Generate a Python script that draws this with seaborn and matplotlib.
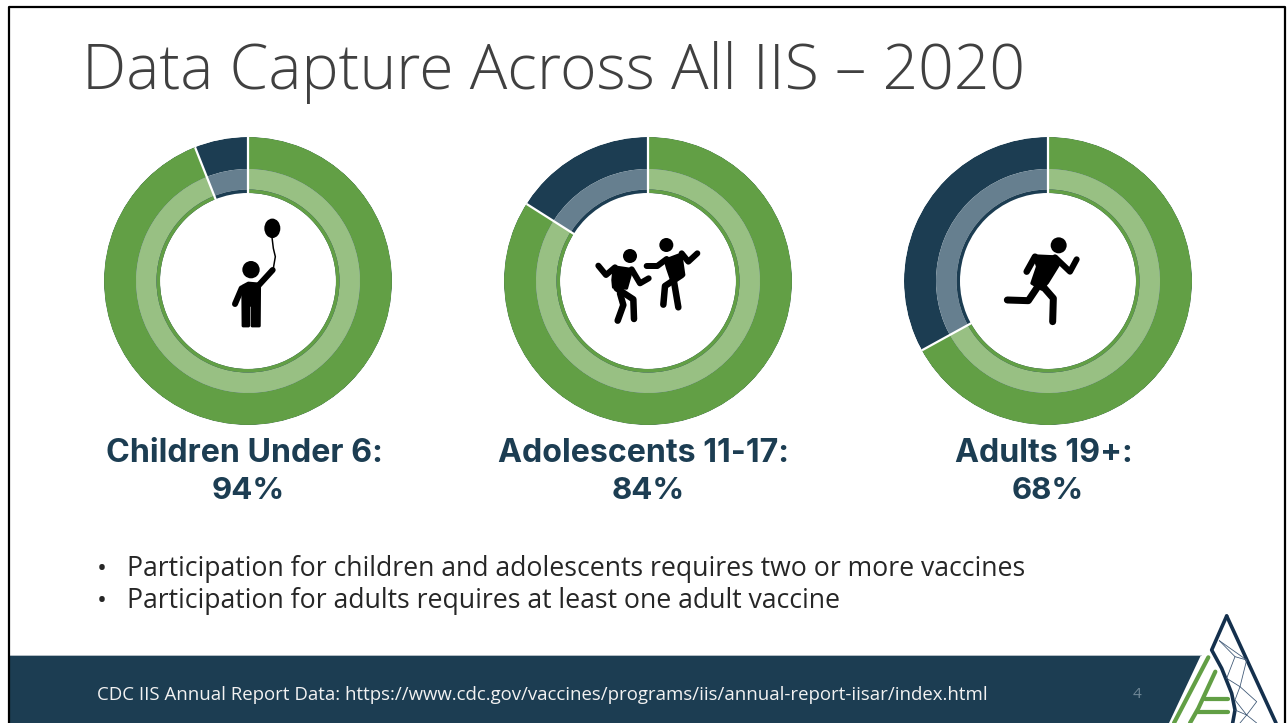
import numpy as np
import matplotlib
matplotlib.use('Agg')
import matplotlib.pyplot as plt
from matplotlib.lines import Line2D
from matplotlib.patches import Circle, Ellipse, Polygon
import seaborn as sns

# Data
groups = ['Children Under 6:', 'Adolescents 11-17:', 'Adults 19+:']
percent_labels = ['94%', '84%', '68%']
ring_share = [94, 84, 67]  # the third ring is drawn a bit short of its label
bullets = ['Participation for children and adolescents requires two or more vaccines',
           'Participation for adults requires at least one adult vaccine']

title = 'Data Capture Across All IIS \u2013 2020'
footer = 'CDC IIS Annual Report Data: https://www.cdc.gov/vaccines/programs/iis/annual-report-iisar/index.html'
page_number = '4'

DARK = '#1c3d52'
GREEN = '#629f45'
LIGHT_GREEN = '#98c083'
LIGHT_DARK = '#667f8f'

sns.set_theme(style='white')
plt.rcParams['font.family'] = ['Open Sans', 'DejaVu Sans']

fig = plt.figure(figsize=(12.88, 7.23), dpi=100, facecolor='white')

# Page layer in pixel coordinates
page = fig.add_axes([0, 0, 1, 1])
page.set_xlim(0, 1288)
page.set_ylim(723, 0)
page.axis('off')


def crop(points, x0, y0):
    return [(x0 + x / 3, y0 + y / 3) for x, y in points]


def limb(points, x0, y0, px, color='black'):
    xy = crop(points, x0, y0)
    page.add_line(Line2D([p[0] for p in xy], [p[1] for p in xy], color=color, lw=px * 0.72,
                         solid_capstyle='round', solid_joinstyle='round', zorder=6))


def blob(points, x0, y0, color='black'):
    page.add_patch(Polygon(crop(points, x0, y0), closed=True, fc=color, ec=color, lw=2,
                           joinstyle='round', zorder=6))


def head(x, y, r, x0, y0):
    page.add_patch(Circle((x0 + x / 3, y0 + y / 3), r / 3, fc='black', ec='none', zorder=6))


# Footer band and slide border
page.add_patch(Polygon([(8, 655), (1201, 655), (1169, 723), (8, 723)], closed=True, fc=DARK, ec='none', zorder=1))
page.add_line(Line2D([8, 1201], [655, 655], color='#b8c2c8', lw=0.7, zorder=1))
page.add_line(Line2D([9, 9, 1285.5, 1285.5], [723, 7, 7, 723], color='black', lw=1.6, zorder=5))

# Text
page.text(82, 73, title, fontsize=45, fontweight='light', color='#404040', va='center', ha='left')
for cx, name, pct in zip([248, 648, 1048], groups, percent_labels):
    page.text(cx - 4, 454, name, fontsize=23.2, fontweight='bold', family=['Inter', 'DejaVu Sans'],
              color=DARK, ha='center', va='center')
    page.text(cx, 491, pct, fontsize=22.5, fontweight='bold', family=['Inter', 'DejaVu Sans'],
              color=DARK, ha='center', va='center')
for y, line in zip([569, 601], bullets):
    page.text(97, y, '\u2022', fontsize=19, color='#262626', va='center', ha='left')
    page.text(127, y, line, fontsize=19.13, color='#262626', va='center', ha='left')
page.text(97, 695, footer, fontsize=13.4, color='#f2f2f2', va='center', ha='left', zorder=3)
page.text(1137, 695, page_number, fontsize=11, color='#6f8796', va='center', ha='center', zorder=3)

# Donuts: each ring is a horizontal bar on a polar axes
rings = [(112, 144, GREEN, DARK), (91.5, 112, LIGHT_GREEN, LIGHT_DARK), (88, 91.5, GREEN, DARK)]
R = 144
for cx, share in zip([248, 648, 1048], ring_share):
    ax = fig.add_axes([(cx - R) / 1288, (723 - 281 - R) / 723, 2 * R / 1288, 2 * R / 723],
                      projection='polar', zorder=4)
    ax.patch.set_alpha(0)
    ax.set_theta_zero_location('N')
    ax.set_theta_direction(-1)
    for r0, r1, main, rest in rings:
        mid = [(r0 + r1) / 2]
        sns.barplot(x=[2 * np.pi], y=mid, orient='h', native_scale=True, width=r1 - r0,
                    color=rest, saturation=1, errorbar=None, linewidth=0, ax=ax)
        sns.barplot(x=[2 * np.pi * share / 100], y=mid, orient='h', native_scale=True, width=r1 - r0,
                    color=main, saturation=1, errorbar=None, linewidth=0, ax=ax)
    # White cuts between the two parts
    for theta in [0, 2 * np.pi * share / 100]:
        ax.plot([theta, theta], [87, R], color='white', lw=1.6, solid_capstyle='butt')
    ax.set_rlim(0, R)
    ax.set_xlabel('')
    ax.set_ylabel('')
    ax.set_xticks([])
    ax.set_yticks([])
    ax.grid(False)
    ax.spines['polar'].set_visible(False)

# Child with balloon icon
x0, y0 = 90, 120
head(483, 449, 26, x0, y0)
blob([(458, 498), (475, 489), (509, 492), (508, 618), (486, 618), (486, 556), (476, 556), (476, 618), (459, 618)], x0, y0)
limb([(505, 497), (548, 450)], x0, y0, 6)
limb([(455, 505), (435, 552)], x0, y0, 6)
page.add_patch(Ellipse((x0 + 547 / 3, y0 + 325 / 3), 16, 19.5, fc='black', ec='none', zorder=6))
limb([(546, 352), (550, 385), (556, 410), (550, 445)], x0, y0, 1.5)

# Two dancers icon
x0, y0 = 570, 210
head(180, 138, 21, x0, y0)
blob([(132, 170), (186, 178), (170, 235), (130, 232), (128, 210)], x0, y0)
limb([(85, 167), (108, 195), (135, 172)], x0, y0, 6)
limb([(185, 178), (210, 220), (236, 205)], x0, y0, 6)
limb([(140, 235), (190, 268), (192, 327)], x0, y0, 6.5)
limb([(150, 250), (160, 285), (143, 332)], x0, y0, 6.5)
head(289, 105, 21, x0, y0)
blob([(285, 150), (333, 132), (342, 195), (305, 213), (292, 175)], x0, y0)
limb([(230, 168), (262, 168), (290, 147)], x0, y0, 6)
limb([(335, 130), (355, 155), (382, 130)], x0, y0, 6)
limb([(335, 195), (285, 228), (280, 284)], x0, y0, 6.5)
limb([(312, 215), (325, 292)], x0, y0, 6.5)

# Runner icon
x0, y0 = 990, 220
head(206, 76, 24, x0, y0)
blob([(132, 107), (198, 110), (212, 125), (173, 188), (155, 208), (125, 190), (142, 140)], x0, y0)
limb([(135, 110), (110, 155)], x0, y0, 6.5)
limb([(195, 112), (240, 155), (260, 118)], x0, y0, 6)
limb([(150, 190), (115, 242), (52, 240)], x0, y0, 7)
limb([(155, 195), (190, 235), (188, 305)], x0, y0, 7)

# Logo in the corner
x0, y0 = 1100, 600
limb([(380, 48), (335, 150), (365, 205), (395, 280), (405, 330), (398, 369)], x0, y0, 3.6, '#14304d')
limb([(380, 48), (528, 369)], x0, y0, 3.6, '#14304d')
for seg in [[(358, 122), (405, 170), (380, 235)], [(358, 122), (440, 180), (405, 170)], [(440, 180), (420, 260), (380, 235)],
            [(420, 260), (470, 305), (440, 345)], [(420, 260), (405, 300), (440, 345), (470, 369)], [(405, 330), (440, 345), (420, 369)]]:
    limb(seg, x0, y0, 0.8, '#3d5775')
limb([(325, 172), (222, 369)], x0, y0, 4.2, GREEN)
limb([(346, 215), (295, 325), (270, 369)], x0, y0, 4.2, GREEN)
limb([(315, 297), (385, 297)], x0, y0, 4.2, GREEN)
limb([(295, 335), (385, 335)], x0, y0, 4.2, GREEN)

fig.savefig('out.png', dpi=100, facecolor='white')
